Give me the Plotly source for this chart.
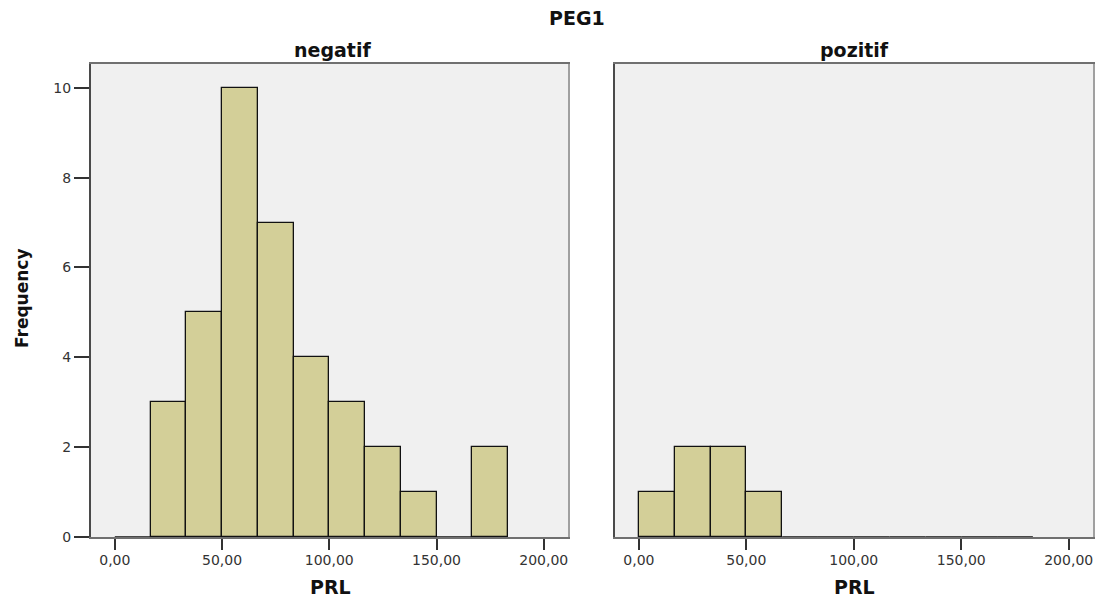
import plotly.graph_objects as go

# ---- data ----
bin_edges = [0.0, 16.667, 33.333, 50.0, 66.667, 83.333, 100.0, 116.667,
             133.333, 150.0, 166.667, 183.333]
counts_negatif = [0, 3, 5, 10, 7, 4, 3, 2, 1, 0, 2]
counts_pozitif = [1, 2, 2, 1, 0, 0, 0, 0, 0, 0, 0]
panel_titles = ["negatif", "pozitif"]
x_tickvals = [0, 50, 100, 150, 200]
x_ticktext = ["0,00", "50,00", "100,00", "150,00", "200,00"]
y_tickvals = [0, 2, 4, 6, 8, 10]

W, H = 1104, 604
BAR = "#d3cf98"
BG = "#f0f0f0"
FONT = "DejaVu Sans, Liberation Sans, Arial, sans-serif"

fig = go.Figure()

def add_panel(counts, xa, ya):
    centers, widths, vals = [], [], []
    zx, zy = [], []
    for i, c in enumerate(counts):
        lo, hi = bin_edges[i], bin_edges[i + 1]
        if c > 0:
            centers.append((lo + hi) / 2)
            widths.append(hi - lo)
            vals.append(c)
        else:
            zx += [lo, hi, None]
            zy += [0, 0, None]
    fig.add_trace(go.Bar(x=centers, y=vals, width=widths, xaxis=xa, yaxis=ya,
                         marker=dict(color=BAR, line=dict(color="#111111", width=1.3)),
                         showlegend=False, hoverinfo="x+y"))
    if zx:
        fig.add_trace(go.Scatter(x=zx, y=zy, mode="lines", xaxis=xa, yaxis=ya,
                                 line=dict(color="#111111", width=1.5),
                                 showlegend=False, hoverinfo="skip"))

add_panel(counts_negatif, "x", "y")
add_panel(counts_pozitif, "x2", "y2")
# empty traces so the right-edge frame axes get drawn
for xa, ya in [("x", "y3"), ("x2", "y4")]:
    fig.add_trace(go.Scatter(x=[None], y=[None], xaxis=xa, yaxis=ya, mode="lines",
                             showlegend=False, hoverinfo="skip"))

def px_x(p):
    return p / W

def px_y(p):
    return (H - p) / H

y_dom = [px_y(537), px_y(64)]
xr = [-11.1, 211.3]
yr = [0, 10.53]
common_x = dict(range=xr, tickvals=x_tickvals, ticktext=x_ticktext,
                ticks="outside", ticklen=11, tickwidth=1.8, tickcolor="#333333",
                ticklabelstandoff=-2,
                showline=True, mirror=True, linecolor="#707070", linewidth=1.5,
                showgrid=False, zeroline=False, fixedrange=True,
                tickfont=dict(family=FONT, size=14, color="#333333"))
common_y = dict(range=yr, domain=y_dom, showgrid=False, zeroline=False,
                showline=True, mirror=False, linecolor="#4a4a4a", linewidth=2,
                fixedrange=True)
edge_y = dict(range=yr, side="right", showgrid=False, zeroline=False,
              showticklabels=False, ticks="", showline=True,
              linecolor="#a0a0a0", linewidth=1.5, fixedrange=True)

fig.update_layout(
    width=W, height=H,
    margin=dict(l=0, r=0, t=0, b=0, autoexpand=False),
    paper_bgcolor="white", plot_bgcolor=BG,
    bargap=0,
    xaxis=dict(domain=[px_x(91), px_x(568)], anchor="y", **common_x),
    xaxis2=dict(domain=[px_x(615), px_x(1093)], anchor="y2", **common_x),
    yaxis=dict(anchor="x", tickvals=y_tickvals, ticks="outside", ticklen=15,
               tickwidth=1.8, tickcolor="#333333",
               tickfont=dict(family=FONT, size=14, color="#333333"), **common_y),
    yaxis2=dict(anchor="x2", showticklabels=False, ticks="", **common_y),
    yaxis3=dict(overlaying="y", anchor="x", **edge_y),
    yaxis4=dict(overlaying="y2", anchor="x2", **edge_y),
)

def note(text, x, y, size, family=FONT, angle=0):
    return dict(text=text, x=px_x(x), y=px_y(y), xref="paper", yref="paper",
                xanchor="center", yanchor="middle", textangle=angle,
                showarrow=False, font=dict(family=family, size=size, color="#111111"))

ann = [note("<b>PEG1</b>", 577, 18, 19)]
for t, cx in zip(panel_titles, [332, 854]):
    ann.append(note(f"<b>{t}</b>", cx, 50, 19))
for cx in [330, 854]:
    ann.append(note("<b>PRL</b>", cx, 587, 19))
ann.append(note("<b>Frequency</b>", 22, 298, 17, angle=-90))
fig.update_layout(annotations=ann)

fig.write_html("out.html")
